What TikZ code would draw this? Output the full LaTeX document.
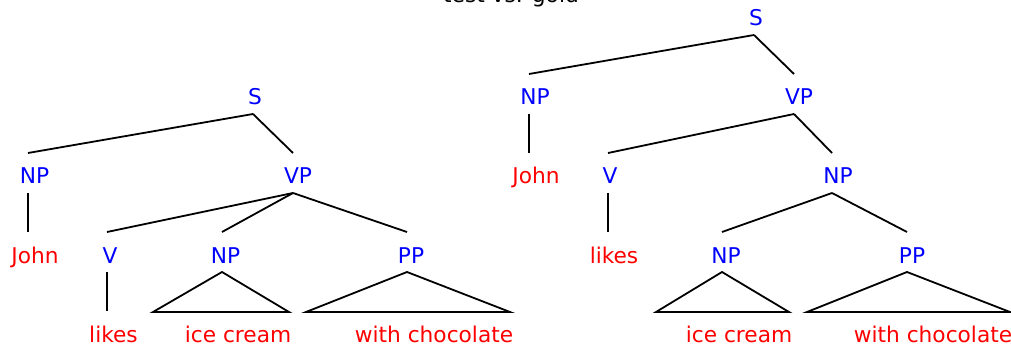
\documentclass[tikz,border=0pt]{standalone}
\usepackage{fontspec}
\setmainfont{DejaVu Sans}
\tikzset{
  lbl/.style={anchor=base, inner sep=0pt, font=\fontsize{21.7}{26}\selectfont},
  cat/.style={lbl, text=blue},
  word/.style={lbl, text=red},
  edge/.style={line width=1.8pt, line join=miter, line cap=butt}
}
\newcommand\treenode[6]{%
  \node[#2] (#1) at (#3,#5) {#6};
  \coordinate (#1-t) at (#4,#5-31);
  \coordinate (#1-b) at (#4,#5+9);
}
\begin{document}
\begin{tikzpicture}[x=1pt,y=-1pt]
\useasboundingbox (0,0) rectangle (1011,347);
\node[lbl, text=black] (title) at (511,2.5) {test vs. gold};
% left tree
\treenode{lS}{cat}{255}{253}{105}{S}
\treenode{lNP}{cat}{34.5}{28}{184}{NP}
\treenode{lVP}{cat}{298}{293}{184}{VP}
\treenode{lJohn}{word}{35}{28}{263}{John}
\treenode{lV}{cat}{110}{107}{263}{V}
\treenode{lNPb}{cat}{225.5}{222}{263}{NP}
\treenode{lPP}{cat}{411}{407}{263}{PP}
\treenode{llikes}{word}{113.5}{107}{342}{likes}
\node[word] (lice) at (238,342) {ice cream};
\node[word] (lwith) at (434,342) {with chocolate};
\coordinate (lt1a) at (153,312); \coordinate (lt1b) at (289,312);
\coordinate (lt2a) at (306,312); \coordinate (lt2b) at (510,312);
\draw[edge] (lS-b) -- (lNP-t);
\draw[edge] (lS-b) -- (lVP-t);
\draw[edge] (lNP-b) -- (lJohn-t);
\draw[edge] (lVP-b) -- (lV-t);
\draw[edge] (lVP-b) -- (lNPb-t);
\draw[edge] (lVP-b) -- (lPP-t);
\draw[edge] (lV-b) -- (llikes-t);
\draw[edge] (lNPb-b) -- (lt1a) -- (lt1b) -- cycle;
\draw[edge] (lPP-b) -- (lt2a) -- (lt2b) -- cycle;
% right tree
\treenode{rS}{cat}{756}{754}{26}{S}
\treenode{rNP}{cat}{535}{529}{105}{NP}
\treenode{rVP}{cat}{799}{794}{105}{VP}
\treenode{rJohn}{word}{536}{529}{184}{John}
\treenode{rV}{cat}{610}{608}{184}{V}
\treenode{rNPb}{cat}{838}{832}{184}{NP}
\treenode{rlikes}{word}{614}{608}{263}{likes}
\treenode{rNPc}{cat}{726}{722}{263}{NP}
\treenode{rPP}{cat}{912}{907}{263}{PP}
\node[word] (rice) at (739,342) {ice cream};
\node[word] (rwith) at (933,342) {with chocolate};
\coordinate (rt1a) at (656,312); \coordinate (rt1b) at (789,312);
\coordinate (rt2a) at (807,312); \coordinate (rt2b) at (1010,312);
\draw[edge] (rS-b) -- (rNP-t);
\draw[edge] (rS-b) -- (rVP-t);
\draw[edge] (rNP-b) -- (rJohn-t);
\draw[edge] (rVP-b) -- (rV-t);
\draw[edge] (rVP-b) -- (rNPb-t);
\draw[edge] (rV-b) -- (rlikes-t);
\draw[edge] (rNPb-b) -- (rNPc-t);
\draw[edge] (rNPb-b) -- (rPP-t);
\draw[edge] (rNPc-b) -- (rt1a) -- (rt1b) -- cycle;
\draw[edge] (rPP-b) -- (rt2a) -- (rt2b) -- cycle;
\end{tikzpicture}
\end{document}
